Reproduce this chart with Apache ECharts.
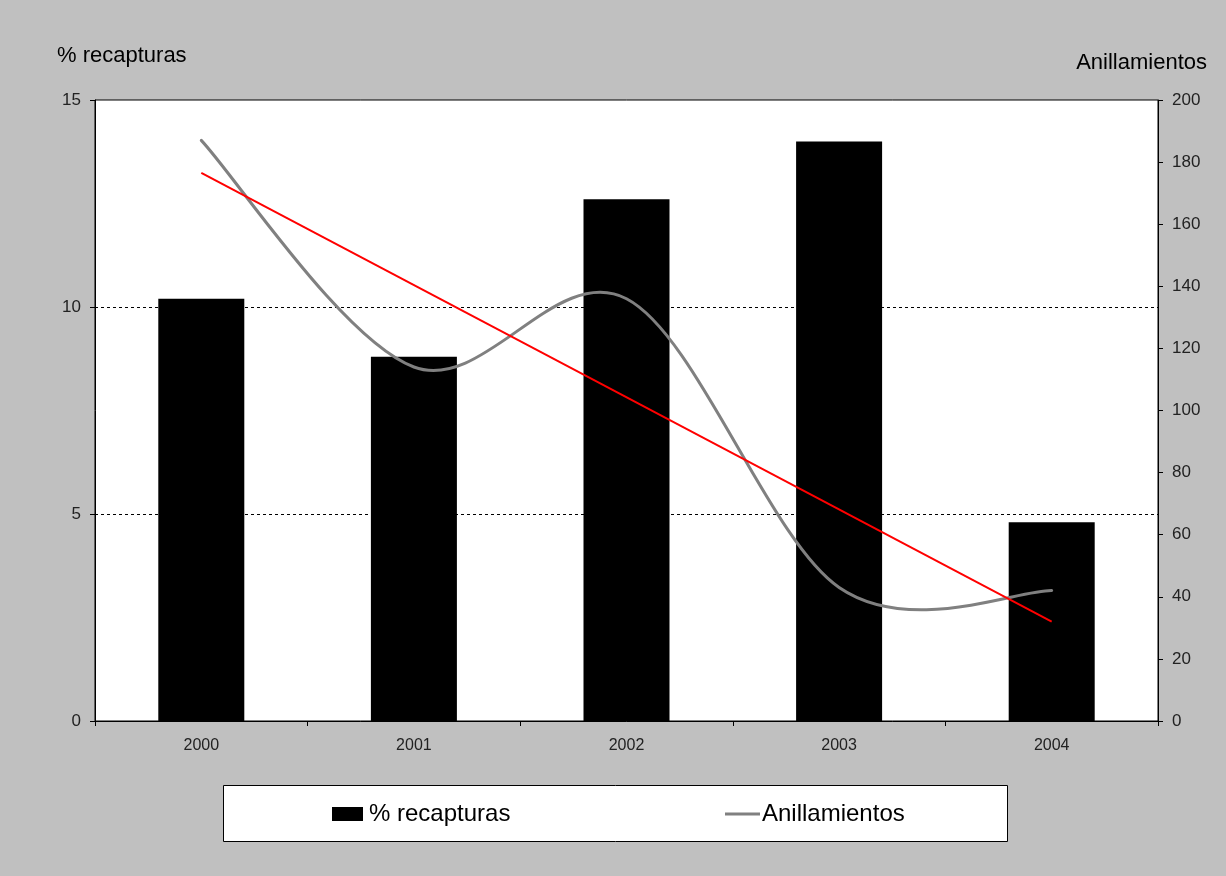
<!DOCTYPE html>
<html>
<head>
<meta charset="utf-8">
<script src="https://cdn.jsdelivr.net/npm/echarts@6/dist/echarts.min.js"></script>
<style>
html,body{margin:0;padding:0;background:#c0c0c0;}
#chart{width:1226px;height:876px;}
</style>
</head>
<body>
<div id="chart"></div>
<script>
// Data
var years = ['2000', '2001', '2002', '2003', '2004'];
var recapturas = [10.2, 8.8, 12.6, 14.0, 4.8];          // % recapturas (left axis)
var anillamientos = [187, 114, 136, 43, 42];           // Anillamientos (right axis)
var tendencia = [176.5, null, null, null, 32];         // red trend line end points (right axis)
var leftTicks = { min: 0, max: 15, interval: 5 };
var rightTicks = { min: 0, max: 200, interval: 20 };

var FONT = '"Liberation Sans", Arial, sans-serif';

// Excel-style smoothed line (Catmull-Rom Bezier) through points mapped by the chart's own axes
function renderSmooth(params, api) {
  if (params.dataIndex !== 0) return null;
  var pts = anillamientos.map(function (v, i) { return api.coord([i, v]); });
  var n = pts.length;
  var d = 'M' + pts[0][0] + ',' + pts[0][1];
  for (var i = 0; i < n - 1; i++) {
    var p0 = pts[Math.max(i - 1, 0)], p1 = pts[i], p2 = pts[i + 1], p3 = pts[Math.min(i + 2, n - 1)];
    var c1x = p1[0] + (p2[0] - p0[0]) / 6, c1y = p1[1] + (p2[1] - p0[1]) / 6;
    var c2x = p2[0] - (p3[0] - p1[0]) / 6, c2y = p2[1] - (p3[1] - p1[1]) / 6;
    d += ' C' + c1x + ',' + c1y + ' ' + c2x + ',' + c2y + ' ' + p2[0] + ',' + p2[1];
  }
  return {
    type: 'path',
    shape: { pathData: d },
    style: { fill: null, stroke: '#808080', lineWidth: 3, lineJoin: 'round', lineCap: 'round' },
    z2: 5
  };
}

var chart = echarts.init(document.getElementById('chart'));
chart.setOption({
  backgroundColor: '#c0c0c0',
  animation: false,
  textStyle: { fontFamily: FONT },
  grid: {
    left: 95, right: 68, top: 100, bottom: 155,
    show: true, backgroundColor: '#ffffff', borderColor: '#000', borderWidth: 1
  },
  graphic: [
    { type: 'text', left: 57, top: 45, style: { text: '% recapturas', font: '22px ' + FONT, fill: '#000' } },
    { type: 'text', right: 19, top: 52, style: { text: 'Anillamientos', font: '22px ' + FONT, fill: '#000' } },
    { type: 'rect', left: 223, top: 785, shape: { width: 784, height: 56 },
      style: { fill: '#ffffff', stroke: '#000', lineWidth: 1 }, z: 0 }
  ],
  legend: [
    { left: 332, top: 802, padding: 0, data: [{ name: '% recapturas', icon: 'rect' }],
      itemWidth: 31, itemHeight: 14, itemGap: 0,
      textStyle: { fontSize: 24, color: '#000', fontFamily: FONT, padding: [0, 0, 0, 1] }, z: 10 },
    { left: 725, top: 802, padding: 0, data: [{ name: 'Anillamientos', icon: 'rect', itemStyle: { color: '#808080' } }],
      itemWidth: 35, itemHeight: 3, itemGap: 0,
      textStyle: { fontSize: 24, color: '#000', fontFamily: FONT, padding: [0, 0, 0, -3] }, z: 10 }
  ],
  xAxis: {
    type: 'category', data: years, boundaryGap: true,
    axisLine: { lineStyle: { color: '#000', width: 1 } },
    axisTick: { show: true, length: 5, alignWithLabel: false, interval: 0, lineStyle: { color: '#000' } },
    axisLabel: { fontSize: 16, color: '#222', margin: 17, fontFamily: FONT }
  },
  yAxis: [
    {
      type: 'value', min: leftTicks.min, max: leftTicks.max, interval: leftTicks.interval, position: 'left',
      axisLine: { show: true, lineStyle: { color: '#000', width: 1 } },
      axisTick: { show: true, length: 5, lineStyle: { color: '#000' } },
      axisLabel: { fontSize: 17, color: '#222', margin: 14, fontFamily: FONT },
      splitLine: { show: true, showMinLine: false, showMaxLine: false, lineStyle: { color: '#000', type: [3, 3], width: 1 } }
    },
    {
      type: 'value', min: rightTicks.min, max: rightTicks.max, interval: rightTicks.interval, position: 'right',
      axisLine: { show: true, lineStyle: { color: '#000', width: 1 } },
      axisTick: { show: true, length: 5, lineStyle: { color: '#000' } },
      axisLabel: { fontSize: 17, color: '#222', margin: 14, fontFamily: FONT },
      splitLine: { show: false }
    }
  ],
  series: [
    {
      name: '% recapturas', type: 'bar', data: recapturas, yAxisIndex: 0,
      barWidth: 86, itemStyle: { color: '#000' }
    },
    {
      name: 'Anillamientos', type: 'custom', xAxisIndex: 0, yAxisIndex: 1,
      data: anillamientos.map(function (v, i) { return [i, v]; }),
      encode: { x: 0, y: 1 },
      renderItem: renderSmooth,
      itemStyle: { color: '#808080' }, z: 3
    },
    {
      name: 'Tendencia', type: 'line', data: tendencia, yAxisIndex: 1, connectNulls: true,
      symbol: 'none', lineStyle: { color: '#ff0000', width: 2 }, itemStyle: { color: '#ff0000' }, z: 4
    }
  ]
});
</script>
</body>
</html>
